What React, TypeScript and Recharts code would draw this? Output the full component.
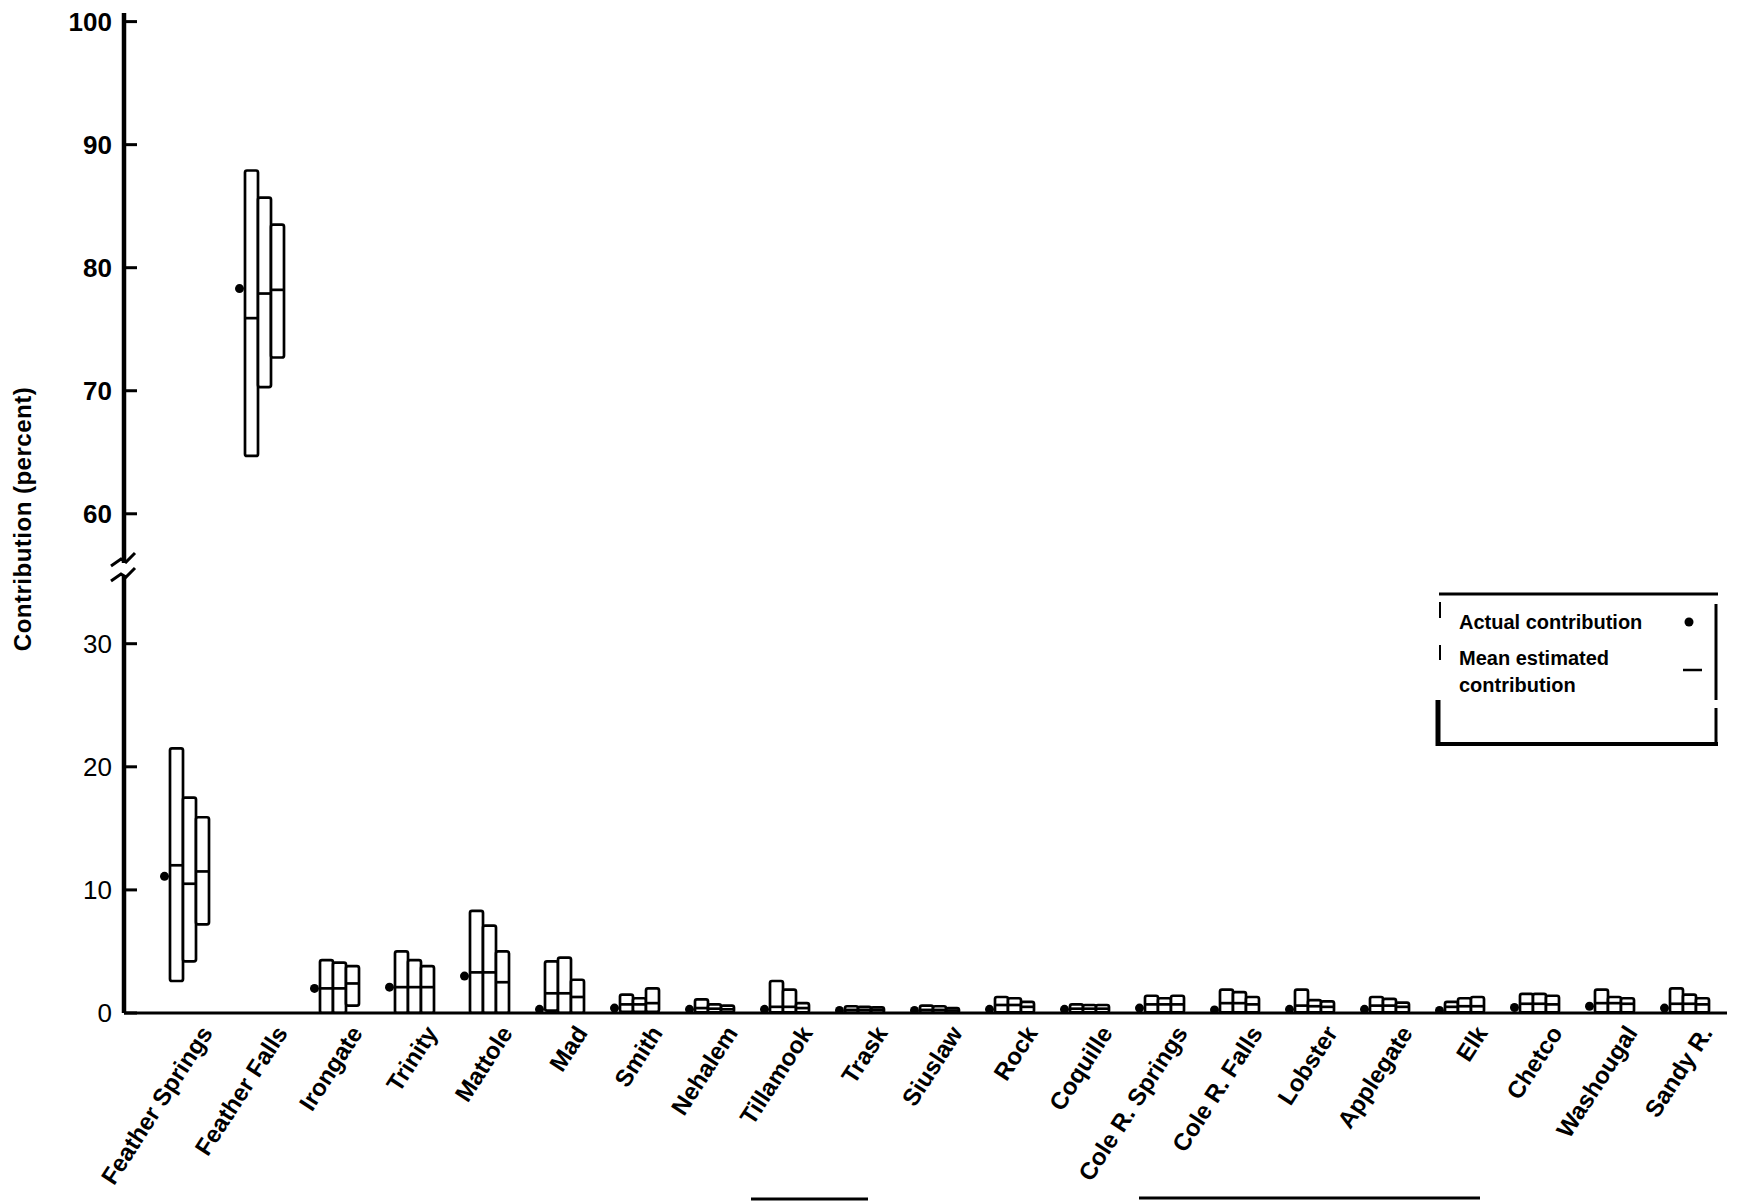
import { ComposedChart, Bar, Line, XAxis, YAxis } from 'recharts';

const stocks = [
  'Feather Springs', 'Feather Falls', 'Irongate', 'Trinity', 'Mattole', 'Mad', 'Smith',
  'Nehalem', 'Tillamook', 'Trask', 'Siuslaw', 'Rock', 'Coquille', 'Cole R. Springs',
  'Cole R. Falls', 'Lobster', 'Applegate', 'Elk', 'Chetco', 'Washougal', 'Sandy R.',
];

// actual contribution (dot)
const actual = [11.1, 78.3, 2.0, 2.1, 3.0, 0.3, 0.4, 0.3, 0.3, 0.2, 0.2, 0.3, 0.3, 0.4, 0.25, 0.3, 0.3, 0.2, 0.45, 0.55, 0.4];

// three estimate ranges per stock: low, high, mean
const low1 = [2.6, 64.7, 0, 0, 0, 0.2, 0.1, 0.05, 0.05, 0.02, 0.02, 0.05, 0.05, 0.05, 0.05, 0.05, 0.05, 0.05, 0.05, 0.05, 0.05];
const high1 = [21.5, 87.9, 4.3, 5.0, 8.3, 4.2, 1.5, 1.1, 2.6, 0.55, 0.6, 1.3, 0.7, 1.4, 1.9, 1.9, 1.3, 0.9, 1.55, 1.9, 2.0];
const mean1 = [12.0, 75.9, 2.0, 2.1, 3.3, 1.6, 0.7, 0.4, 0.5, 0.25, 0.25, 0.65, 0.35, 0.7, 0.8, 0.6, 0.6, 0.5, 0.75, 0.8, 0.75];

const low2 = [4.2, 70.3, 0, 0, 0, 0, 0.1, 0.05, 0.05, 0.02, 0.02, 0.05, 0.05, 0.05, 0.05, 0.05, 0.05, 0.05, 0.05, 0.05, 0.05];
const high2 = [17.5, 85.7, 4.1, 4.3, 7.1, 4.5, 1.2, 0.7, 1.9, 0.5, 0.55, 1.2, 0.65, 1.2, 1.7, 1.05, 1.15, 1.2, 1.55, 1.3, 1.5];
const mean2 = [10.5, 77.9, 2.0, 2.1, 3.3, 1.6, 0.7, 0.35, 0.5, 0.25, 0.25, 0.65, 0.35, 0.7, 0.8, 0.55, 0.6, 0.55, 0.75, 0.8, 0.75];

const low3 = [7.2, 72.7, 0.6, 0, 0, 0, 0.1, 0.05, 0.05, 0.02, 0.02, 0.05, 0.05, 0.05, 0.05, 0.05, 0.05, 0.05, 0.05, 0.05, 0.05];
const high3 = [15.9, 83.5, 3.8, 3.8, 5.0, 2.7, 2.0, 0.6, 0.8, 0.45, 0.4, 0.9, 0.65, 1.4, 1.3, 0.95, 0.85, 1.3, 1.4, 1.2, 1.2];
const mean3 = [11.5, 78.2, 2.4, 2.1, 2.5, 1.3, 0.8, 0.3, 0.4, 0.25, 0.2, 0.5, 0.35, 0.7, 0.7, 0.5, 0.5, 0.55, 0.7, 0.75, 0.7];

const upperTicks = [60, 70, 80, 90, 100];
const lowerTicks = [0, 10, 20, 30];

const estimates = [
  { low: low1, high: high1, mean: mean1 },
  { low: low2, high: high2, mean: mean2 },
  { low: low3, high: high3, mean: mean3 },
];

const FONT = '"Liberation Sans", Arial, Helvetica, sans-serif';
const AXIS_X = 124;

// rows for one panel of the broken axis: only marks that fit in [lo, hi]
function makeRows(lo: number, hi: number) {
  return stocks.map((name, i) => {
    const row: any = { name };
    estimates.forEach((e, k) => {
      const inside = e.low[i] >= lo && e.high[i] <= hi;
      row[`r${k}`] = inside ? [e.low[i], e.high[i]] : null;
      row[`m${k}`] = e.mean[i];
    });
    row.actual = actual[i] >= lo && actual[i] <= hi ? actual[i] : null;
    return row;
  });
}

const upperRows = makeRows(56, 100.7);
const lowerRows = makeRows(0, 35.5);

// open box for the range, with the mean drawn across it
const rangeBox = (k: number) => (props: any) => {
  const { x, y, width, height, payload } = props;
  const r = payload[`r${k}`];
  if (!r) return <g />;
  const top = Math.min(y, y + height);
  const h = Math.abs(height);
  const my = top + ((r[1] - payload[`m${k}`]) / (r[1] - r[0])) * h;
  return (
    <g>
      <rect x={x} y={top} width={width} height={h} rx={2} fill="#fff" stroke="#000" strokeWidth={2.7} />
      <line x1={x} x2={x + width} y1={my} y2={my} stroke="#000" strokeWidth={2.7} />
    </g>
  );
};

const ActualDot = (props: any) => {
  const { cx, cy, index } = props;
  if (cy == null || Number.isNaN(cy)) return <g key={index} />;
  return <circle key={index} cx={cx - 25} cy={cy} r={4.5} fill="#000" />;
};

const yTick = (bold: boolean) => (props: any) => {
  const { y, payload } = props;
  return (
    <g>
      <line x1={AXIS_X} x2={AXIS_X + 13} y1={y} y2={y} stroke="#000" strokeWidth={3} />
      <text x={AXIS_X - 12} y={y} dy={9} textAnchor="end" fontSize={26}
        fontWeight={bold ? 700 : 400} fontFamily={FONT} fill="#000">
        {payload.value}
      </text>
    </g>
  );
};

const XTick = (props: any) => {
  const { x, y, payload } = props;
  const tx = x + 24;
  const ty = y + 20;
  return (
    <text x={tx} y={ty} transform={`rotate(-57 ${tx} ${ty})`} textAnchor="end"
      fontSize={24} fontWeight={700} fontFamily={FONT} fill="#000">
      {payload.value}
    </text>
  );
};

function Panel({ rows, domain, ticks, bold, showX, height, margin }: any) {
  return (
    <ComposedChart width={1738} height={height} data={rows} margin={margin} barGap={0} barSize={13}>
      <XAxis dataKey="name" interval={0} hide={!showX} height={189} padding={{ left: 28, right: 0 }}
        axisLine={{ stroke: '#000', strokeWidth: 3 }} tickLine={false} tickSize={0} tickMargin={0}
        tick={<XTick />} />
      <YAxis type="number" domain={domain} ticks={ticks} allowDataOverflow width={AXIS_X}
        axisLine={{ stroke: '#000', strokeWidth: 4.5 }} tickLine={false} tick={yTick(bold)} />
      {[0, 1, 2].map((k) => (
        <Bar key={k} dataKey={`r${k}`} shape={rangeBox(k)} isAnimationActive={false} />
      ))}
      <Line dataKey="actual" stroke="none" dot={<ActualDot />} activeDot={false}
        isAnimationActive={false} legendType="none" />
    </ComposedChart>
  );
}

export default function App() {
  return (
    <div style={{ position: 'absolute', left: 0, top: 0, width: 1738, height: 1202, background: '#fff', fontFamily: FONT }}>
      <div style={{ position: 'absolute', left: 0, top: 0 }}>
        <Panel rows={upperRows} domain={[56, 100.7]} ticks={upperTicks} bold showX={false}
          height={575} margin={{ top: 13, right: 11, bottom: 12, left: 0 }} />
      </div>
      <div style={{ position: 'absolute', left: 0, top: 570 }}>
        <Panel rows={lowerRows} domain={[0, 35.5]} ticks={lowerTicks} bold={false} showX
          height={632} margin={{ top: 6, right: 11, bottom: 0, left: 0 }} />
      </div>
      <svg width={1738} height={1202} style={{ position: 'absolute', left: 0, top: 0, pointerEvents: 'none' }}>
        <text x={22} y={519} transform="rotate(-90 22 519)" textAnchor="middle" dominantBaseline="central"
          fontSize={24} fontWeight={700} letterSpacing={0.5} fontFamily={FONT} fill="#000">
          Contribution (percent)
        </text>
        {/* axis break marks */}
        <path d="M111,566 L121,559 L126,562 L135,553" fill="none" stroke="#000" strokeWidth={3} />
        <path d="M111,581 L121,574 L126,577 L135,568" fill="none" stroke="#000" strokeWidth={3} />
        {/* legend frame */}
        <line x1={1439} x2={1718} y1={594} y2={594} stroke="#000" strokeWidth={3} />
        <line x1={1716} x2={1716} y1={604} y2={700} stroke="#000" strokeWidth={3} />
        <line x1={1716} x2={1716} y1={708} y2={742} stroke="#000" strokeWidth={3} />
        <line x1={1436} x2={1718} y1={744} y2={744} stroke="#000" strokeWidth={4} />
        <line x1={1438} x2={1438} y1={700} y2={746} stroke="#000" strokeWidth={5} />
        <line x1={1440} x2={1440} y1={602} y2={618} stroke="#000" strokeWidth={2} />
        <line x1={1440} x2={1440} y1={645} y2={660} stroke="#000" strokeWidth={2} />
        <text x={1459} y={629} fontSize={20} fontWeight={700} fontFamily={FONT} fill="#000">Actual  contribution</text>
        <circle cx={1689} cy={622} r={4.5} fill="#000" />
        <text x={1459} y={665} fontSize={20} fontWeight={700} fontFamily={FONT} fill="#000">Mean estimated</text>
        <text x={1459} y={692} fontSize={20} fontWeight={700} fontFamily={FONT} fill="#000">contribution</text>
        <line x1={1683} x2={1702} y1={670} y2={670} stroke="#000" strokeWidth={2.5} />
        {/* stray rules at the bottom edge */}
        <line x1={751} x2={868} y1={1199} y2={1199} stroke="#000" strokeWidth={3} />
        <line x1={1139} x2={1480} y1={1198} y2={1198} stroke="#000" strokeWidth={3} />
      </svg>
    </div>
  );
}
